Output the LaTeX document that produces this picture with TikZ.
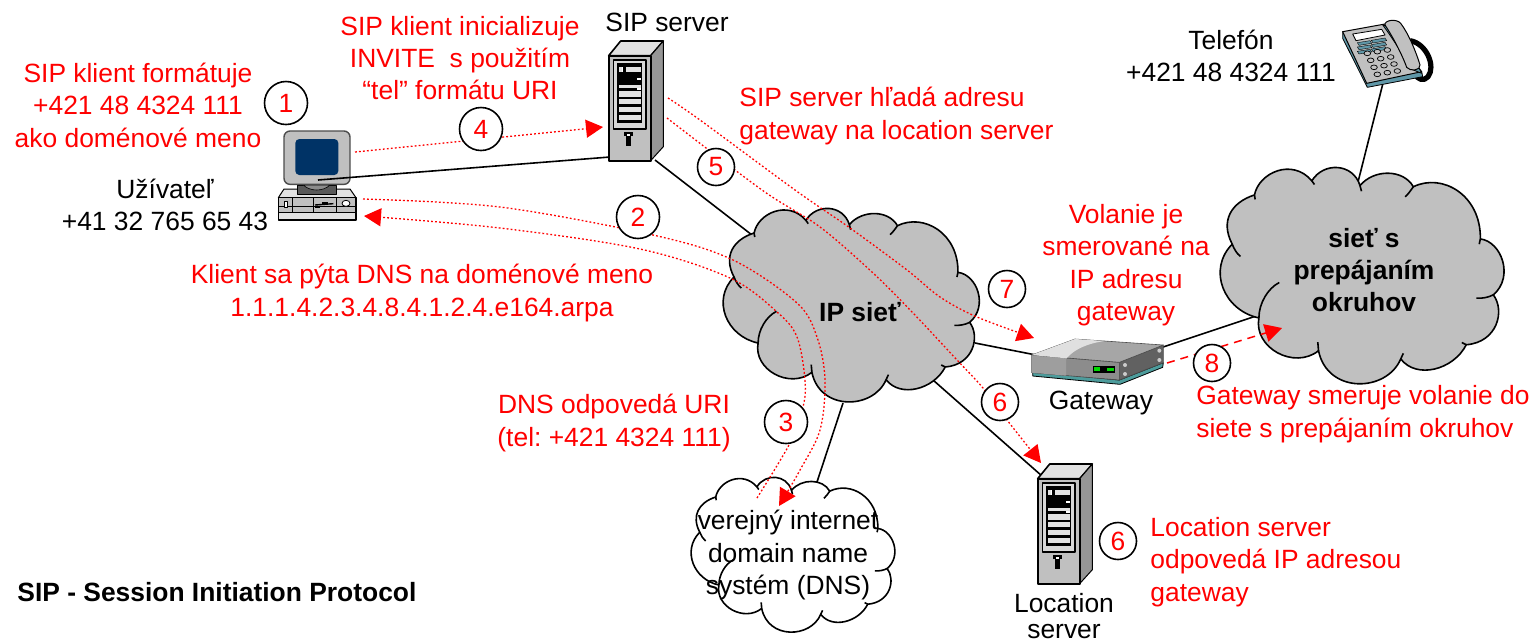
\documentclass[tikz,border=0pt]{standalone}
\usepackage{fontspec}
\setmainfont{Liberation Sans}
\frenchspacing
\usetikzlibrary{arrows.meta}
\definecolor{cloudgray}{HTML}{C0C0C0}
\definecolor{srvside}{HTML}{969696}
\definecolor{srvtop}{HTML}{E2E2E2}
\definecolor{pcblue}{HTML}{003366}
\definecolor{teal}{HTML}{4D9C9C}
\definecolor{keyblue}{HTML}{5F97A8}
\tikzset{
  wire/.style={draw=black,line width=0.8pt},
  cloudline/.style={draw=black,line width=0.8pt,line join=round},
  dots/.style={draw=red,line width=0.65pt,dash pattern=on 0.9pt off 1.1pt},
  dashes/.style={draw=red,line width=0.75pt,dash pattern=on 4pt off 3pt},
  tip/.style={-{Triangle[length=8.5pt,width=9pt,fill=red,color=red]}},
  lab/.style={font=\fontsize{13.2}{16.2}\selectfont,align=center,inner sep=0pt,text=black},
  redlab/.style={lab,text=red},
  boldlab/.style={lab,font=\fontsize{13.2}{16.2}\selectfont\bfseries},
  numcircle/.style={circle,draw=black,fill=white,line width=0.8pt,text=red,inner sep=0pt,
    font=\fontsize{13.2}{14}\selectfont,minimum size=21.5pt},
  smallcircle/.style={numcircle,minimum size=18.5pt},
}
% cloud: #1,#2 left/top, #3,#4 width/height in pixels, #5 fill
\newcommand{\cloudglyph}[5]{%
\begin{scope}[shift={(#1,#2)},xscale=#3/775,yscale=#4/585,shift={(-250,-55)}]
\path[cloudline,fill=#5] (343,130)
 .. controls (355,70) and (445,30) .. (498,92)
 .. controls (530,40) and (610,45) .. (628,105)
 .. controls (665,60) and (745,60) .. (772,108)
 .. controls (850,70) and (955,130) .. (953,248)
 .. controls (1010,255) and (1045,350) .. (988,398)
 .. controls (1020,440) and (1000,525) .. (915,532)
 .. controls (880,600) and (780,625) .. (738,570)
 .. controls (700,660) and (540,665) .. (516,548)
 .. controls (450,600) and (340,540) .. (355,460)
 .. controls (260,440) and (215,330) .. (283,262)
 .. controls (250,200) and (280,150) .. (343,130) -- cycle;
\path[cloudline] (343,130) -- (345,142);
\path[cloudline] (498,92) -- (505,102);
\path[cloudline] (628,105) -- (632,120);
\path[cloudline] (772,108) .. controls (765,118) and (758,128) .. (750,135);
\path[cloudline] (953,248) -- (950,262);
\path[cloudline] (988,398) .. controls (975,405) and (958,408) .. (942,407);
\path[cloudline] (915,532) -- (903,526);
\path[cloudline] (738,570) -- (745,555);
\path[cloudline] (516,548) -- (514,525);
\path[cloudline] (355,460) .. controls (355,420) and (380,380) .. (410,365);
\path[cloudline] (283,262) .. controls (288,275) and (295,287) .. (305,295);
\end{scope}}
% tower server, origin = crop corner, drawn at 1/3 scale
\newcommand{\towerglyph}[2]{%
\begin{scope}[shift={(#1,#2)},scale=1/3,line join=round]
\path[draw=black,line width=0.8pt,fill=srvtop] (26,62) -- (62,18) -- (190,18) -- (152,62) -- cycle;
\path[draw=black,line width=0.5pt,fill=srvside] (152,62) -- (190,18) -- (190,335) -- (152,377) -- cycle;
\path[draw=black,line width=1pt,fill=cloudgray] (26,62) rectangle (152,377);
\path[draw=black,line width=0.8pt,fill=srvtop!70!cloudgray] (40,75) rectangle (138,282);
\path[fill=black] (52,85) rectangle (126,265);
\foreach \yy/\hh in {97/14,150/10,168/18,192/16,216/14,240/15}{
  \path[fill=srvtop] (57,\yy) rectangle (122,\yy+\hh);}
\path[fill=white] (66,97) rectangle (70,111);
\path[fill=black] (70,97) rectangle (78,111);
\path[fill=white] (112,128) rectangle (122,134);
\path[fill=white] (112,160) rectangle (122,165);
\path[fill=black] (72,292) rectangle (98,304);
\path[fill=white] (80,296) rectangle (90,302);
\path[fill=black] (78,304) rectangle (92,332);
\end{scope}}
\begin{document}
\begin{tikzpicture}[x=0.5pt,y=-0.5pt]
\useasboundingbox (0,0) rectangle (1534,639);
% ports
\coordinate (pcPort) at (318,180);
\coordinate (srvW) at (610,157);
\coordinate (srvS) at (655,160);
\coordinate (ipNW) at (752,235);
\coordinate (ipE) at (975,343);
\coordinate (gwW) at (1036,355);
\coordinate (gwE) at (1160,348);
\coordinate (pstnW) at (1256,316);
\coordinate (phoneS) at (1383,83);
\coordinate (pstnN) at (1358,182);
\coordinate (ipS) at (843,403);
\coordinate (dnsN) at (816,485);
\coordinate (ipSE) at (933,380);
\coordinate (locNW) at (1042,476);
% black connectors
\draw[wire] (ipE) -- (gwW);
\draw[wire] (gwE) -- (pstnW);
\draw[wire] (phoneS) -- (pstnN);
\draw[wire] (ipS) -- (dnsN);
\draw[wire] (ipSE) -- (locNW);
\draw[wire] (srvS) -- (ipNW);
% clouds
\cloudglyph{723}{208}{259}{195}{cloudgray}
\cloudglyph{1220}{167}{287}{218}{cloudgray}
\cloudglyph{691}{477}{206}{156}{white}
% computer
\begin{scope}[shift={(270,125)},scale=1/3,line join=round]
\path[fill=srvtop,draw=black,line width=0.5pt] (42,192) -- (240,192) -- (258,218) -- (25,218) -- cycle;
\path[fill=cloudgray,draw=black,line width=0.7pt] (25,218) rectangle (258,262);
\path[fill=srvtop,draw=black,line width=0.7pt] (25,262) rectangle (258,285);
\foreach \xx in {68,130,198}{\path[draw=black,line width=0.5pt] (\xx,218) -- (\xx,262);}
\path[draw=black,line width=0.3pt] (25,243) -- (258,243);
\path[fill=white,draw=black,line width=0.3pt] (44,228) rectangle (52,246);
\path[draw=black,line width=0.7pt] (135,240) -- (190,236);
\path[fill=black] (155,232) rectangle (175,240);
\path[fill=black] (135,243) rectangle (150,248);
\path[fill=white,draw=black,line width=0.4pt] (228,235) ellipse (12 and 9);
\path[fill=black!65,draw=black,line width=0.5pt] (82,180) rectangle (198,208);
\path[fill=black!45,draw=black,line width=0.3pt] (100,180) .. controls (120,200) and (160,200) .. (180,180) -- cycle;
\path[fill=cloudgray,draw=black!70,line width=0.7pt,rounded corners=3pt] (42,18) rectangle (240,178);
\path[fill=pcblue,rounded corners=2pt] (76,42) rectangle (205,150);
\end{scope}
\draw[wire] (pcPort) -- (srvW);
% servers
\towerglyph{600}{35}
\towerglyph{1029}{458}
% gateway
\begin{scope}[shift={(1020,330)},scale=1/3,line join=round]
\path[fill=teal,draw=black,line width=0.4pt] (38,125) -- (298,150) -- (430,98) -- (428,112) -- (300,163) -- (38,138) -- cycle;
\path[fill=black!45,draw=black!70,line width=0.3pt] (35,75) -- (298,97) -- (298,150) -- (35,128) -- cycle;
\path[fill=black!38] (35,75) -- (138,84) -- (138,137) -- (35,128) -- cycle;
\path[fill=black!62,draw=black!70,line width=0.3pt] (298,97) -- (430,45) -- (430,98) -- (298,150) -- cycle;
\path[fill=black!35,draw=black!70,line width=0.3pt] (35,75) -- (165,27) -- (430,45) -- (298,97) -- cycle;
\path[fill=black!12] (35,75) -- (165,27) -- (255,33) .. controls (200,40) and (160,60) .. (140,85) -- cycle;
\path[fill=black] (218,108) rectangle (285,128);
\path[fill=green!85!black] (222,112) rectangle (240,122);
\path[fill=green!85!black] (262,114) rectangle (282,124);
\foreach \xx/\yy in {315/105,315/132,418/62,418/90}{\path[fill=black!20] (\xx,\yy) circle (6);}
\end{scope}
% telephone
\begin{scope}[shift={(1330,10)},scale=1/3,line join=round]
\path[draw=black,line width=2.6pt] (240,92) .. controls (290,100) and (318,170) .. (294,200) .. controls (282,215) and (262,210) .. (255,190);
\path[fill=keyblue,draw=black,line width=0.4pt] (38,65) -- (38,85) -- (112,232) -- (278,200) -- (275,185) -- cycle;
\path[fill=cloudgray,draw=black,line width=0.5pt] (38,65) -- (165,42) -- (275,185) -- (110,220) -- cycle;
\path[fill=white,draw=black,line width=0.4pt] (68,72) -- (155,58) -- (165,75) -- (78,92) -- cycle;
\foreach \yy in {0,13,26}{
 \path[fill=keyblue,draw=black,line width=0.2pt] (82,98+\yy) -- (120,92+\yy) -- (125,100+\yy) -- (87,106+\yy) -- cycle;
 \path[fill=keyblue,draw=black,line width=0.2pt] (124,91+\yy) -- (165,84+\yy) -- (170,92+\yy) -- (129,99+\yy) -- cycle;}
\foreach \xa/\ya in {0/0,1/0,2/0,0/1,1/1,2/1,0/2,1/2,2/2,0/3,1/3,2/3}{
 \path[fill=cloudgray,draw=black,line width=0.35pt] (112+\xa*30+\ya*10,130-\xa*5+\ya*21) ellipse (10 and 7);}
\path[fill=keyblue,draw=black,line width=0.4pt] (158,45) .. controls (185,80) and (215,130) .. (245,178) -- (275,190) -- (265,170) -- (215,60) -- cycle;
\path[fill=cloudgray,draw=black,line width=0.5pt] (165,45) .. controls (162,30) and (200,25) .. (212,40) .. controls (235,70) and (258,125) .. (270,165) .. controls (272,182) and (240,185) .. (230,172) .. controls (215,130) and (185,75) .. (165,45) -- cycle;
\end{scope}
% signalling flows
\coordinate (f2a) at (363,199);
\coordinate (f2b) at (779,506);
\coordinate (f3a) at (757,498);
\coordinate (f3b) at (364,216);
\coordinate (f4a) at (355,152);
\coordinate (f4b) at (603,127);
\coordinate (f7a) at (668,98);
\coordinate (f7b) at (1034,338);
\coordinate (f6a) at (667,118);
\coordinate (f6b) at (1041,463);
\coordinate (f8a) at (1167,363);
\coordinate (f8b) at (1282,328);
\draw[dots,tip] plot[smooth,tension=0.55] coordinates {(f2a) (500,207) (653,235) (733,260) (797,303) (817,337) (825,380) (820,430) (800,470) (f2b)};
\draw[dots,tip] plot[smooth,tension=0.55] coordinates {(f3a) (790,443) (803,407) (805,380) (797,337) (777,312) (730,278) (640,249) (500,228) (f3b)};
\draw[dots,tip] (f4a) -- (f4b);
\draw[dots,tip] plot[smooth,tension=0.55] coordinates {(f7a) (700,120) (795,190) (850,228) (907,270) (940,297) (977,317) (f7b)};
\draw[dots,tip] plot[smooth,tension=0.55] coordinates {(f6a) (762,190) (820,227) (873,273) (913,313) (957,360) (983,388) (1007,420) (f6b)};
\draw[dashes,tip] (f8a) -- (f8b);
% labels
\node[redlab] (t1) at (138,105) {SIP klient formátuje\\+421 48 4324 111\\ako doménové meno};
\node[lab] (tuser) at (165,205) {Užívateľ\\+41 32 765 65 43};
\node[redlab] (t4) at (460,58) {SIP klient inicializuje\\INVITE\ \ s použitím\\“tel” formátu URI};
\node[lab] (tsrv) at (667,22) {SIP server};
\node[redlab,align=left,anchor=west] (t5) at (739,116) {SIP server hľadá adresu\\gateway na location server};
\node[lab] (ttel) at (1231,56) {Telefón\\+421 48 4324 111};
\node[redlab] (t7) at (1126,265) {Volanie je\\smerované na\\IP adresu\\gateway};
\node[redlab] (t2) at (422,293) {Klient sa pýta DNS na doménové meno\\1.1.1.4.2.3.4.8.4.1.2.4.e164.arpa};
\node[redlab] (t3) at (614,423) {DNS odpovedá URI\\(tel: +421 4324 111)};
\node[boldlab] (tip) at (860,312) {IP sieť};
\node[boldlab] (tpstn) at (1364,270) {sieť s\\prepájaním\\okruhov};
\node[lab] (tgw) at (1101,403) {Gateway};
\node[redlab,align=left,anchor=west] (t8) at (1196,414) {Gateway smeruje volanie do\\siete s prepájaním okruhov};
\node[redlab,align=left,anchor=west] (t6) at (1150,562) {Location server\\odpovedá IP adresou\\gateway};
\node[lab] (tdns) at (788,555) {verejný internet\\domain name\\systém (DNS)};
\node[lab,font=\fontsize{13.2}{12.6}\selectfont] (tloc) at (1064,616) {Location\\server};
\node[lab,font=\fontsize{13.2}{14}\selectfont\bfseries,anchor=west] (ttitle) at (17,592) {SIP - Session Initiation Protocol};
% numbers
\node[numcircle] (n1) at (286,103) {1};
\node[numcircle] (n4) at (481,129) {4};
\node[numcircle] (n2) at (638,217) {2};
\node[numcircle] (n3) at (786,422) {3};
\node[smallcircle] (n5) at (716,167) {5};
\node[smallcircle] (n7) at (1007,289) {7};
\node[smallcircle] (n6a) at (1000,402) {6};
\node[smallcircle] (n8) at (1212,363) {8};
\node[smallcircle] (n6b) at (1118,541) {6};
\end{tikzpicture}
\end{document}
